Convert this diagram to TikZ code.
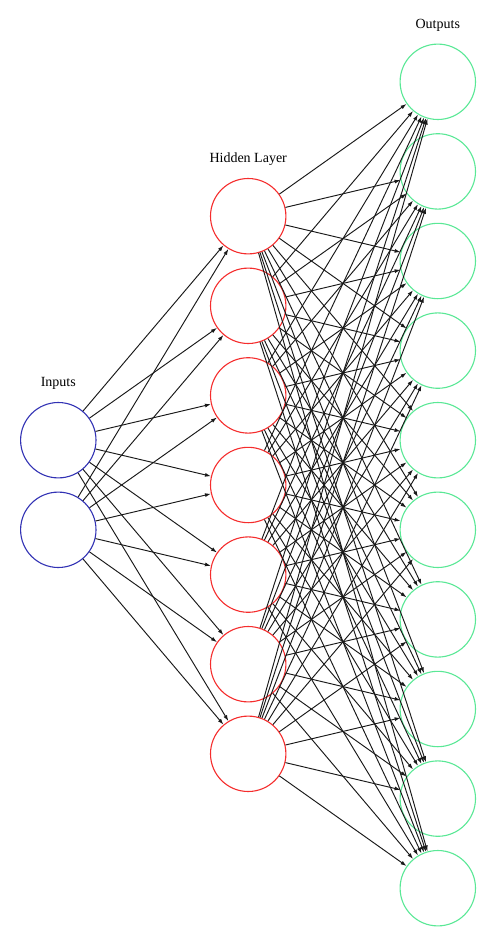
\documentclass[tikz,border=0pt]{standalone}
\usepackage{fontspec}
\setmainfont{Liberation Serif}
\usetikzlibrary{arrows.meta}
\definecolor{inblue}{RGB}{50,50,180}
\definecolor{hidred}{RGB}{245,45,45}
\definecolor{outgreen}{RGB}{90,232,150}
\begin{document}
\begin{tikzpicture}[x=1pt,y=-1pt,
  neuron/.style={circle,draw,line width=1.1pt,minimum size=75.4pt,inner sep=0pt,fill=white},
  inneuron/.style={neuron,draw=inblue},
  hidneuron/.style={neuron,draw=hidred},
  outneuron/.style={neuron,draw=outgreen},
  conn/.style={line width=0.95pt,black!90,-{Latex[length=6pt,width=4pt]}},
  lab/.style={anchor=base,font=\fontsize{14pt}{16pt}\selectfont,inner sep=0pt}]
\useasboundingbox (0,0) rectangle (496,947);
% nodes
\node[inneuron] (i1) at (58.3,440.2) {};
\node[inneuron] (i2) at (58.3,529.8) {};
\foreach \k in {1,...,7}{
  \node[hidneuron] (h\k) at (248.2,{216.2+89.6*(\k-1)}) {};
}
\foreach \k in {1,...,10}{
  \node[outneuron] (o\k) at (437.8,{81.8+89.6*(\k-1)}) {};
}
% labels
\node[lab] (li) at (58.3,386.7) {Inputs};
\node[lab] (lh) at (248.2,162.7) {Hidden Layer};
\node[lab] (lo) at (437.8,28.3) {Outputs};
% connectors
\foreach \a in {1,2}{
  \foreach \b in {1,...,7}{
    \draw[conn] (i\a) -- (h\b);
  }
}
\foreach \a in {1,...,7}{
  \foreach \b in {1,...,10}{
    \draw[conn] (h\a) -- (o\b);
  }
}
\end{tikzpicture}
\end{document}
